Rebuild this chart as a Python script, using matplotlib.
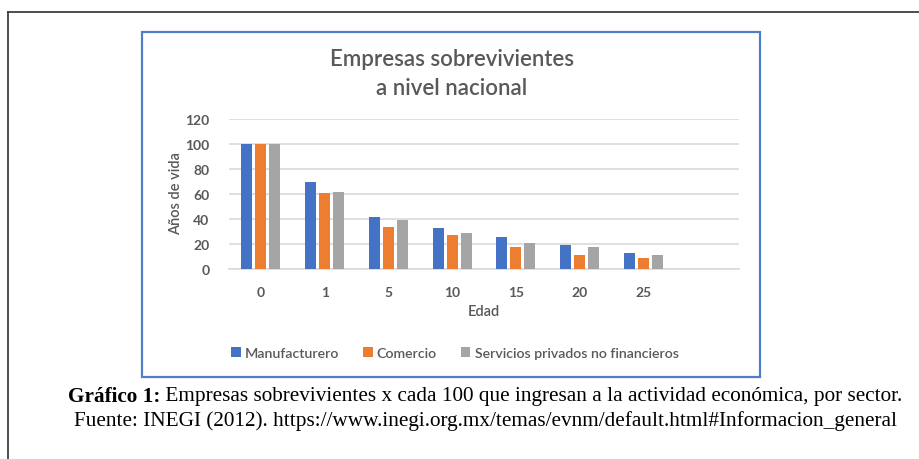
# -*- coding: utf-8 -*-

# ***************************************************
# * Description : Empresas sobrevivientes a nivel nacional (INEGI 2012)
# ***************************************************

import numpy as np
import matplotlib
matplotlib.use("Agg")
import matplotlib.pyplot as plt
from matplotlib.patches import Rectangle, Patch
from matplotlib.lines import Line2D

# datos
edades = ["0", "1", "5", "10", "15", "20", "25"]
manufacturero = [100, 70, 42, 33, 26, 19, 13]
comercio = [100, 61, 34, 27, 18, 11, 9]
servicios = [100, 62, 39, 29, 21, 18, 11]
series = ["Manufacturero", "Comercio", "Servicios privados no financieros"]
yticks = [0, 20, 40, 60, 80, 100, 120]

# colores estilo Excel
COLORS = ["#4472C4", "#ED7D31", "#A5A5A5"]
TXT = "#595959"
GRID = "#D9D9D9"
FONT = ["Lato", "DejaVu Sans"]


def main():
    W, H = 920, 460
    fig = plt.figure(figsize=(W / 100, H / 100), dpi=100)
    fig.patch.set_facecolor("white")

    # marco exterior (solo arriba e izquierda)
    fig.add_artist(Line2D([8 / W, 1], [1 - 13 / H, 1 - 13 / H], color="#404040", lw=1.3))
    fig.add_artist(Line2D([8 / W, 8 / W], [0, 1 - 13 / H], color="#404040", lw=1.3))

    # borde azul del grafico
    fig.add_artist(Rectangle((142 / W, 1 - 378 / H), (760 - 142) / W, (378 - 33) / H,
                             fill=False, edgecolor="#4F7FCB", lw=1.6))

    ax = fig.add_axes([229 / W, 1 - 270 / H, (739 - 229) / W, 150 / H])
    x = np.arange(len(edades))
    w = 0.175
    off = 0.22
    for i, vals in enumerate([manufacturero, comercio, servicios]):
        ax.bar(x + (i - 1) * off, vals, width=w, color=COLORS[i], zorder=3)

    ax.set_xlim(-0.5, 7.5)
    ax.set_ylim(0, 120)
    ax.set_yticks(yticks)
    ax.set_xticks(x)
    ax.set_xticklabels(edades)
    ax.grid(axis="y", color=GRID, lw=1.2, zorder=0)
    for s in ["top", "right", "left"]:
        ax.spines[s].set_visible(False)
    ax.spines["bottom"].set_color(GRID)
    ax.spines["bottom"].set_linewidth(1.2)
    ax.tick_params(length=0, colors=TXT, labelsize=10)
    ax.tick_params(axis="y", pad=14)
    ax.tick_params(axis="x", pad=12)
    for lab in ax.get_xticklabels() + ax.get_yticklabels():
        lab.set_family(FONT)
        lab.set_fontweight("bold")

    fig.text(176 / W, 1 - 194 / H, "Años de vida", rotation=90, ha="center", va="center",
             color=TXT, fontsize=10.5, family=FONT, fontweight="semibold")
    fig.text(484 / W, 1 - 312 / H, "Edad", ha="center", va="center",
             color=TXT, fontsize=10.5, family=FONT, fontweight="semibold")
    fig.text(452 / W, 1 - 74 / H, "Empresas sobrevivientes\na nivel nacional", ha="center",
             va="center", color=TXT, fontsize=16, family=FONT, fontweight="semibold",
             linespacing=1.45)

    handles = [Patch(facecolor=c) for c in COLORS]
    fig.legend(handles, series, loc="center", bbox_to_anchor=(455 / W, 1 - 354 / H), ncol=3,
               frameon=False, handlelength=0.65, handleheight=0.65, handletextpad=0.3,
               columnspacing=1.7, prop={"family": FONT, "size": 10.2, "weight": "semibold"},
               labelcolor=TXT)

    # pie de figura: parte en negrita + texto normal
    serif = ["Liberation Serif", "DejaVu Serif"]
    fs = 15.3
    t_b = fig.text(0, 1 - 397 / H, "Gráfico 1:", fontsize=fs, family=serif,
                   fontweight="bold", va="center")
    t_n = fig.text(0, 1 - 397 / H,
                   " Empresas sobrevivientes x cada 100 que ingresan a la actividad económica, por sector.",
                   fontsize=fs, family=serif, va="center")
    fig.canvas.draw()
    r = fig.canvas.get_renderer()
    wb = t_b.get_window_extent(r).width
    wn = t_n.get_window_extent(r).width
    x0 = 485 - (wb + wn) / 2
    t_b.set_x(x0 / W)
    t_n.set_x((x0 + wb) / W)
    fig.text(486 / W, 1 - 421 / H,
             "Fuente: INEGI (2012). https://www.inegi.org.mx/temas/evnm/default.html#Informacion_general",
             fontsize=fs, family=serif, ha="center", va="center")

    fig.savefig("out.png", dpi=100)


if __name__ == "__main__":
    main()
